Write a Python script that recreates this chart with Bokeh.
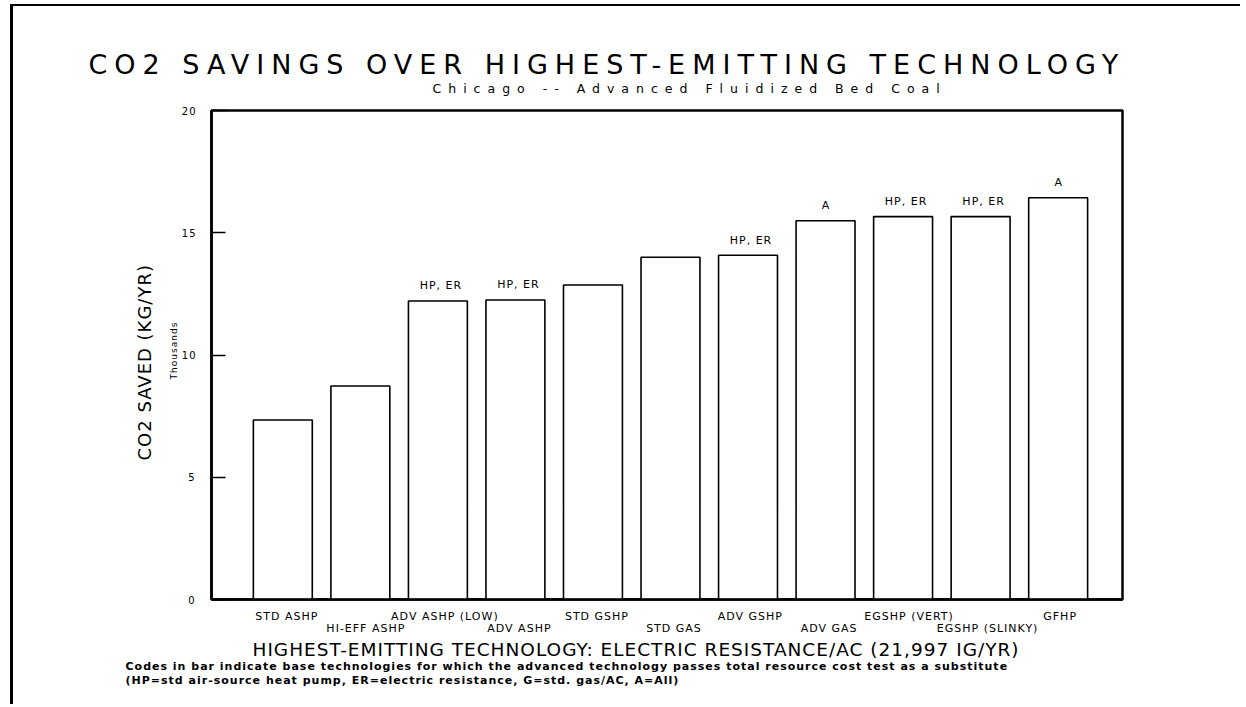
from bokeh.plotting import figure
from bokeh.layouts import column
from bokeh.models import Range1d, FixedTicker, LinearAxis, ColumnDataSource, Title
from bokeh.core.properties import value
from bokeh.embed import file_html
from bokeh.resources import INLINE

# ---------------- data ----------------
categories = ["STD ASHP", "HI-EFF ASHP", "ADV ASHP (LOW)", "ADV ASHP", "STD GSHP",
              "STD GAS", "ADV  GSHP", "ADV GAS", "EGSHP (VERT)", "EGSHP (SLINKY)", "GFHP"]
co2_saved_thousands = [7.34, 8.73, 12.21, 12.25, 12.86, 14.00, 14.08, 15.49, 15.66, 15.66, 16.43]
codes = ["", "", "HP, ER", "HP, ER", "", "", "HP, ER", "A", "HP, ER", "HP, ER", "A"]
y_ticks = [0, 5, 10, 15, 20]

title_text = "CO2 SAVINGS OVER HIGHEST-EMITTING TECHNOLOGY"
subtitle_text = "Chicago -- Advanced Fluidized Bed Coal"
y_label_text = "CO2 SAVED (KG/YR)"
y_unit_text = "Thousands"
x_label_text = "HIGHEST-EMITTING TECHNOLOGY: ELECTRIC RESISTANCE/AC (21,997 IG/YR)"
note_1 = ("Codes in bar indicate base technologies for which the advanced technology "
          "passes total resource cost test as a substitute")
note_2 = "(HP=std  air-source heat pump, ER=electric resistance, G=std. gas/AC, A=All)"

FONT = "DejaVu Sans"
THIN = "DejaVu Sans ExtraLight, DejaVu Sans"

W = 1230
ML = 198
FW, FH = 911, 489
FL = 211          # frame left, page px
FB = 599          # frame bottom, page px


def make_title(text, size, offset, standoff, style="normal", font=FONT):
    return Title(text=text, align="left", offset=offset, standoff=standoff,
                 text_font=font, text_font_size=size, text_font_style=style,
                 text_color="black")


# ---------------- heading figure (wide letter spacing, plotter-like) ----------------
HT = 100
head = figure(width=W, height=HT, output_backend="svg", toolbar_location=None,
              x_range=Range1d(0, 1), y_range=Range1d(0, 1),
              min_border_left=ML, min_border_right=W - ML - FW,
              min_border_top=HT - 4, min_border_bottom=0,
              x_axis_type=None, y_axis_type=None,
              styles={"margin-left": "10px", "margin-top": "4px",
                      "border-top": "2px solid black", "border-left": "3px solid black",
                      "letter-spacing": "7px"})
head.grid.visible = False
head.outline_line_color = None
head.background_fill_color = "white"
head.border_fill_color = "white"
head.add_layout(make_title(subtitle_text, "12.5px", 432 - FL, 14, font=THIN), "above")
head.add_layout(make_title(title_text, "27px", 88 - FL, -16, font=THIN), "above")

# ---------------- main chart ----------------
x_idx = list(range(len(categories)))
src = ColumnDataSource(dict(x=x_idx, top=co2_saved_thousands, code=codes))

H = 600
MT = 6
p = figure(width=W, height=H, output_backend="svg", toolbar_location=None,
           x_range=Range1d(-0.92, 10.83), y_range=Range1d(0, 20),
           min_border_left=ML, min_border_right=W - ML - FW,
           min_border_top=MT, min_border_bottom=H - MT - FH,
           x_axis_type=None, y_axis_type=None,
           styles={"margin-left": "10px", "border-left": "3px solid black",
                   "letter-spacing": "1px"})
p.grid.visible = False
p.outline_line_color = "black"
p.outline_line_width = 2.5
p.background_fill_color = "white"
p.border_fill_color = "white"

# left: tick axis, "Thousands", main label
yax = LinearAxis(ticker=FixedTicker(ticks=y_ticks))
yax.major_tick_in = 14
yax.major_tick_out = 0
yax.minor_tick_line_color = None
yax.axis_line_width = 2.5
yax.major_tick_line_width = 1.5
yax.major_label_standoff = 17
yax.major_label_text_font = FONT
yax.major_label_text_font_size = "10px"
yax.major_label_text_color = "black"
p.add_layout(yax, "left")

unit_ax = LinearAxis(ticker=FixedTicker(ticks=[]), axis_label=y_unit_text)
unit_ax.axis_line_color = None
unit_ax.major_tick_line_color = None
unit_ax.minor_tick_line_color = None
unit_ax.major_label_text_font_size = "0px"
unit_ax.axis_label_standoff = 0
unit_ax.axis_label_text_font = FONT
unit_ax.axis_label_text_font_size = "9px"
unit_ax.axis_label_text_font_style = "normal"
unit_ax.axis_label_text_color = "black"
p.add_layout(unit_ax, "left")

p.add_layout(make_title(y_label_text, "18px", FB - 460, 22), "left")

# bottom axes (staggered category labels)
even = [i for i in x_idx if i % 2 == 0]
odd = [i for i in x_idx if i % 2 == 1]
xax1 = LinearAxis(ticker=FixedTicker(ticks=even),
                  major_label_overrides={i: categories[i] for i in even})
xax2 = LinearAxis(ticker=FixedTicker(ticks=odd),
                  major_label_overrides={i: categories[i] for i in odd})
for ax in (xax1, xax2):
    ax.major_tick_in = 0
    ax.major_tick_out = 0
    ax.minor_tick_line_color = None
    ax.major_label_text_font = FONT
    ax.major_label_text_font_size = "11px"
    ax.major_label_text_color = "black"
xax1.axis_line_width = 2.5
xax1.major_label_standoff = 10
xax2.axis_line_color = None
xax2.major_label_standoff = -4
p.add_layout(xax1, "below")
p.add_layout(xax2, "below")

# bars
p.vbar(x="x", top="top", bottom=0, width=0.76, source=src,
       fill_color="white", line_color="black", line_width=1.6)
p.text(x="x", y="top", text="code", source=src, y_offset=-15,
       text_align="center", text_baseline="middle",
       text_font=value(FONT), text_font_size="11px", text_color="black")

# bottom titles
p.add_layout(make_title(x_label_text, "18.5px", 252 - FL, -2), "below")
p.add_layout(make_title(note_1, "11px", 125 - FL, -1, "bold"), "below")
p.add_layout(make_title(note_2, "11px", 125 - FL, -1, "bold"), "below")

layout = column(head, p, spacing=0)
open("out.html", "w").write(file_html(layout, INLINE))
